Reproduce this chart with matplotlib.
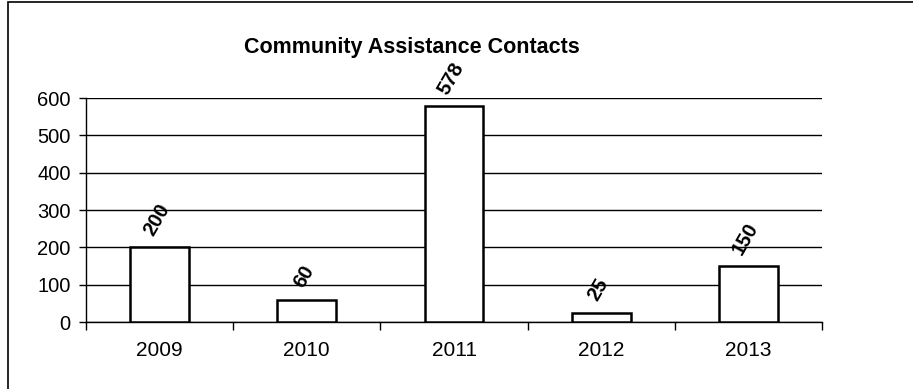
import numpy as np
import matplotlib.pyplot as plt
from matplotlib.patches import Rectangle

plt.rcParams['font.family'] = ['Liberation Sans', 'DejaVu Sans']

years = ['2009', '2010', '2011', '2012', '2013']
contacts = [200, 60, 578, 25, 150]
y_ticks = [0, 100, 200, 300, 400, 500, 600]

fig = plt.figure(figsize=(9.13, 3.89), dpi=100)
ax = fig.add_axes([86 / 913, 1 - 322 / 389, (822 - 86) / 913, (322 - 98) / 389])

x = np.arange(len(years))
bars = ax.bar(x, contacts, width=0.4, color='white', edgecolor='black', linewidth=1.8, zorder=3)

# value labels, tilted like the original
for xi, v in zip(x, contacts):
    ax.annotate(str(v), (xi, v), xytext=(-2, 6), textcoords='offset points',
                ha='center', va='bottom', rotation=60, fontsize=14.5, fontweight='bold')

ax.set_xlim(-0.5, len(years) - 0.5)
ax.set_ylim(0, 600)
ax.set_yticks(y_ticks)
ax.tick_params(axis='y', labelsize=14.5, length=5, width=1, direction='out', pad=6)
ax.yaxis.grid(True, color='black', linewidth=1, zorder=0)
ax.set_axisbelow(True)

ax.set_xticks(x)
ax.set_xticklabels(years)
ax.set_xticks(np.arange(-0.5, len(years)), minor=True)
ax.tick_params(axis='x', which='major', length=0, labelsize=15, pad=14)
ax.tick_params(axis='x', which='minor', length=6, width=1, direction='out')

for s in ['top', 'right']:
    ax.spines[s].set_visible(False)
for s in ['left', 'bottom']:
    ax.spines[s].set_linewidth(1)

fig.text(412 / 913, 1 - 48 / 389, 'Community Assistance Contacts', ha='center', va='center',
         fontsize=15.5, fontweight='bold')

# outer frame of the scanned chart
fig.patches.append(Rectangle((8 / 913, -0.1), 1.2, 1 - 2 / 389 + 0.1, transform=fig.transFigure,
                             fill=False, edgecolor='black', linewidth=1.2))

fig.savefig('out.png', dpi=100)
